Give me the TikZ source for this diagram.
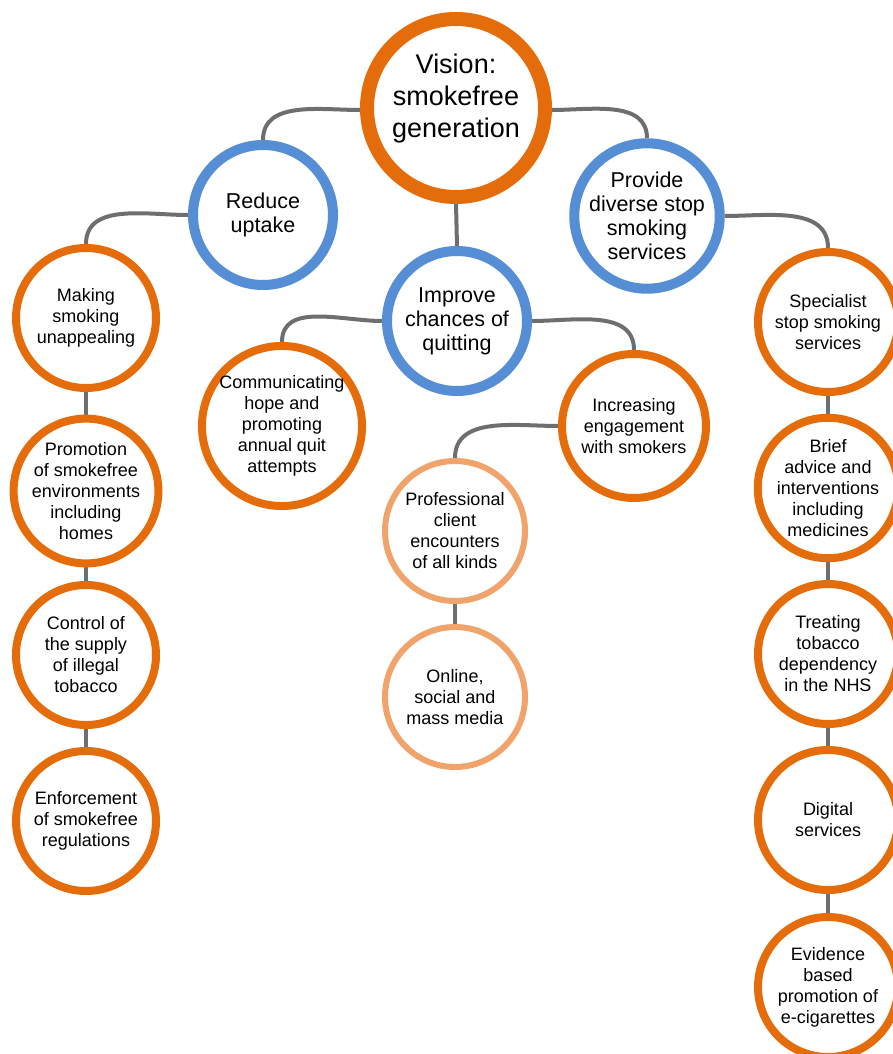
\documentclass[tikz,border=0pt]{standalone}
\usepackage{fontspec}
\setmainfont{Liberation Sans}
\usetikzlibrary{backgrounds}

\definecolor{strongorange}{HTML}{E46C0A}
\definecolor{paleorange}{HTML}{F0A46C}
\definecolor{goalblue}{HTML}{558ED5}
\definecolor{linkgray}{HTML}{6E6E6E}

\begin{document}
\begin{tikzpicture}[
            x=1pt, y=-1pt,
            visionnode/.style={circle, draw=strongorange, line width=14pt, fill=white, minimum size=178pt, inner sep=0pt, align=center, font=\fontsize{27}{32}\selectfont},
            goalnode/.style={circle, draw=goalblue, line width=10pt, fill=white, minimum size=140pt, inner sep=0pt, align=center, font=\fontsize{21.5}{24}\selectfont},
            actionnode/.style={circle, draw=strongorange, line width=8pt, fill=white, minimum size=140pt, inner sep=0pt, align=center, font=\fontsize{18}{21}\selectfont},
            channelnode/.style={circle, draw=paleorange, line width=6pt, fill=white, minimum size=140pt, inner sep=0pt, align=center, font=\fontsize{18}{21}\selectfont},
            link/.style={draw=linkgray, line width=4pt}
          ]
          \useasboundingbox (0,0) rectangle (892,1054);

          %Nodes
          \node[visionnode] at (456,108) (V) {Vision:\\smokefree\\generation\\[-8pt]};
          \node[goalnode] at (263,215) (R) {Reduce\\uptake};
          \node[goalnode] at (647,216) (P) {Provide\\diverse stop\\smoking\\services};
          \node[goalnode] at (457,321) (I) {Improve\\chances of\\quitting};

          \node[actionnode] at (86,318) (L1) {Making\\smoking\\unappealing};
          \node[actionnode] at (86,491) (L2) {Promotion\\of smokefree\\environments\\including\\homes};
          \node[actionnode] at (86,655) (L3) {Control of\\the supply\\of illegal\\tobacco};
          \node[actionnode] at (86,821) (L4) {Enforcement\\of smokefree\\regulations};

          \node[actionnode, minimum size=144pt] at (282,426) (M1) {Communicating\\hope and\\promoting\\annual quit\\attempts};
          \node[actionnode, minimum size=144pt] at (634,426) (M2) {Increasing\\engagement\\with smokers};
          \node[channelnode] at (455,531) (C1) {Professional\\client\\encounters\\of all kinds};
          \node[channelnode] at (455,697) (C2) {Online,\\social and\\mass media};

          \node[actionnode] at (828,322) (S1) {Specialist\\stop smoking\\services};
          \node[actionnode] at (828,488) (S2) {Brief\\advice and\\interventions\\including\\medicines};
          \node[actionnode] at (828,654) (S3) {Treating\\tobacco\\dependency\\in the NHS};
          \node[actionnode] at (828,820) (S4) {Digital\\services};
          \node[actionnode] at (828,987) (S5) {Evidence\\based\\promotion of\\e-cigarettes};

          %Lines
          \begin{scope}[on background layer]
          \draw[link] ([yshift=-2pt]V.west) to[out=180,in=90] (R.north);
          \draw[link] ([yshift=-2pt]V.east) to[out=0,in=90] (P.north);
          \draw[link] (V.south) -- (I.north);
          \draw[link] (R.west) to[out=180,in=90] (L1.north);
          \draw[link] (P.east) to[out=0,in=90] (S1.north);
          \draw[link] (I.west) to[out=180,in=90] (M1.north);
          \draw[link] (I.east) to[out=0,in=90] (M2.north);
          \draw[link] (M2.west) to[out=180,in=90] (C1.north);
          \draw[link] (C1.south) -- (C2.north);
          \draw[link] (L1) -- (L2) -- (L3) -- (L4);
          \draw[link] (S1) -- (S2) -- (S3) -- (S4) -- (S5);
          \end{scope}

        \end{tikzpicture}
\end{document}
